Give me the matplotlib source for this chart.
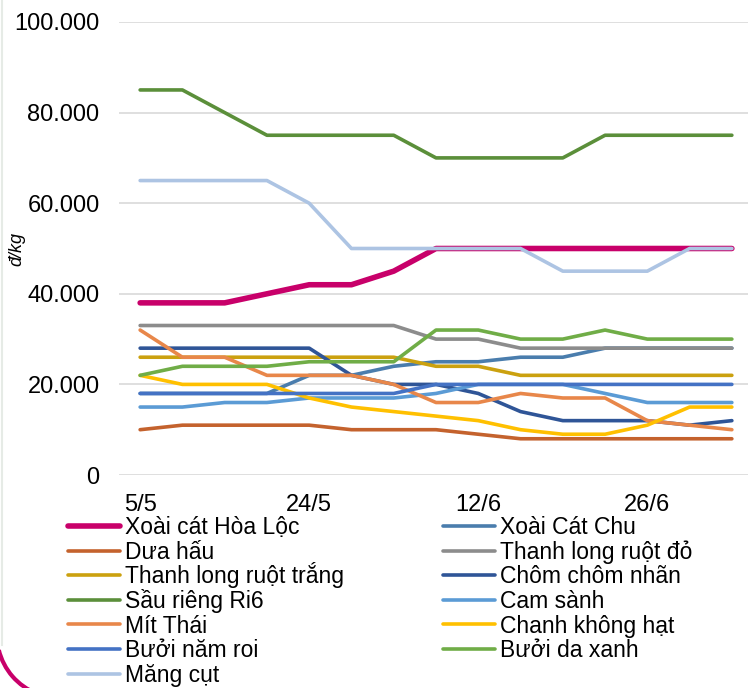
import matplotlib
matplotlib.use('Agg')
import matplotlib.pyplot as plt
from matplotlib.ticker import FuncFormatter, FixedLocator
from matplotlib.lines import Line2D
from matplotlib.patches import Arc

plt.rcParams['font.family'] = ['Liberation Sans', 'DejaVu Sans']

# gia (nghin dong / kg), 15 ky
xoai_hoa_loc = [38, 38, 38, 40, 42, 42, 45, 50, 50, 50, 50, 50, 50, 50, 50]
xoai_cat_chu = [18, 18, 18, 18, 22, 22, 24, 25, 25, 26, 26, 28, 28, 28, 28]
dua_hau = [10, 11, 11, 11, 11, 10, 10, 10, 9, 8, 8, 8, 8, 8, 8]
thanh_long_do = [33, 33, 33, 33, 33, 33, 33, 30, 30, 28, 28, 28, 28, 28, 28]
thanh_long_trang = [26, 26, 26, 26, 26, 26, 26, 24, 24, 22, 22, 22, 22, 22, 22]
chom_chom = [28, 28, 28, 28, 28, 22, 20, 20, 18, 14, 12, 12, 12, 11, 12]
sau_rieng = [85, 85, 80, 75, 75, 75, 75, 70, 70, 70, 70, 75, 75, 75, 75]
cam_sanh = [15, 15, 16, 16, 17, 17, 17, 18, 20, 20, 20, 18, 16, 16, 16]
mit_thai = [32, 26, 26, 22, 22, 22, 20, 16, 16, 18, 17, 17, 12, 11, 10]
chanh = [22, 20, 20, 20, 17, 15, 14, 13, 12, 10, 9, 9, 11, 15, 15]
buoi_nam_roi = [18, 18, 18, 18, 18, 18, 18, 20, 20, 20, 20, 20, 20, 20, 20]
buoi_da_xanh = [22, 24, 24, 24, 25, 25, 25, 32, 32, 30, 30, 32, 30, 30, 30]
mang_cut = [65, 65, 65, 65, 60, 50, 50, 50, 50, 50, 45, 45, 45, 50, 50]

tick_pos = [0, 4, 8, 12]
tick_labels = ['5/5', '24/5', '12/6', '26/6']

series = [
    ('Xoài cát Hòa Lộc', xoai_hoa_loc, '#c8006a', 4.0),
    ('Xoài Cát Chu', xoai_cat_chu, '#4a7dad', 2.6),
    ('Dưa hấu', dua_hau, '#c4622d', 2.6),
    ('Thanh long ruột đỏ', thanh_long_do, '#8c8c8c', 2.6),
    ('Thanh long ruột trắng', thanh_long_trang, '#cba10f', 2.6),
    ('Chôm chôm nhãn', chom_chom, '#2f5597', 2.6),
    ('Sầu riêng Ri6', sau_rieng, '#5b8f3a', 2.6),
    ('Cam sành', cam_sanh, '#5b9bd5', 2.6),
    ('Mít Thái', mit_thai, '#e8874a', 2.6),
    ('Chanh không hạt', chanh, '#ffc000', 2.6),
    ('Bưởi năm roi', buoi_nam_roi, '#4472c4', 2.6),
    ('Bưởi da xanh', buoi_da_xanh, '#70ad47', 2.6),
    ('Măng cụt', mang_cut, '#adc4e3', 2.6),
]

W, H = 748, 688
fig = plt.figure(figsize=(W / 100, H / 100), dpi=100)
ax = fig.add_axes([119 / W, 1 - 475 / H, 634 / W, 453 / H])

for name, vals, color, lw in series:
    ax.plot(range(len(vals)), [v * 1000 for v in vals], color=color, lw=lw,
            solid_capstyle='round', solid_joinstyle='round')

ax.set_xlim(-0.5, len(xoai_hoa_loc) - 0.5)
ax.set_ylim(0, 100000)
ax.yaxis.set_major_locator(FixedLocator([0, 20000, 40000, 60000, 80000, 100000]))
ax.yaxis.set_major_formatter(FuncFormatter(lambda v, p: f"{int(v):,}".replace(',', '.')))
ax.set_xticks(tick_pos)
ax.set_xticklabels(tick_labels)
ax.tick_params(axis='both', length=0, labelsize=17, colors='black')
ax.tick_params(axis='y', pad=14)
ax.tick_params(axis='x', pad=14)
ax.grid(axis='y', color='#d9d9d9', lw=1.2)
ax.set_axisbelow(True)
for s in ax.spines.values():
    s.set_visible(False)

fig.text(17 / W, 1 - 249 / H, 'đ/kg', rotation=90, fontsize=13, style='italic',
         ha='center', va='center')

# legend ve tay: 2 cot, thu tu theo hang nhu Excel
col_x = [68, 443]
row_y0, row_dy = 526, 24.6
for i, (name, vals, color, lw) in enumerate(series):
    r, c = divmod(i, 2)
    x0 = col_x[c]
    y = row_y0 + r * row_dy
    fig.add_artist(Line2D([x0 / W, (x0 + 52) / W], [1 - y / H, 1 - y / H],
                          color=color, lw=lw, solid_capstyle='round',
                          transform=fig.transFigure))
    fig.text((x0 + 57) / W, 1 - (y + 8.2) / H, name, fontsize=16.5,
             ha='left', va='baseline')

# vien trang tri ben trai
fig.add_artist(Line2D([2 / W, 2 / W], [1 - 645 / H, 1], color='#e6ebe6', lw=1.5,
                      transform=fig.transFigure))
fig.add_artist(Arc((60 / W, 53 / H), 126 / W, 126 / H, theta1=195, theta2=250,
                   color='#c8006a', lw=3.0, transform=fig.transFigure))

fig.savefig('out.png', dpi=100)
